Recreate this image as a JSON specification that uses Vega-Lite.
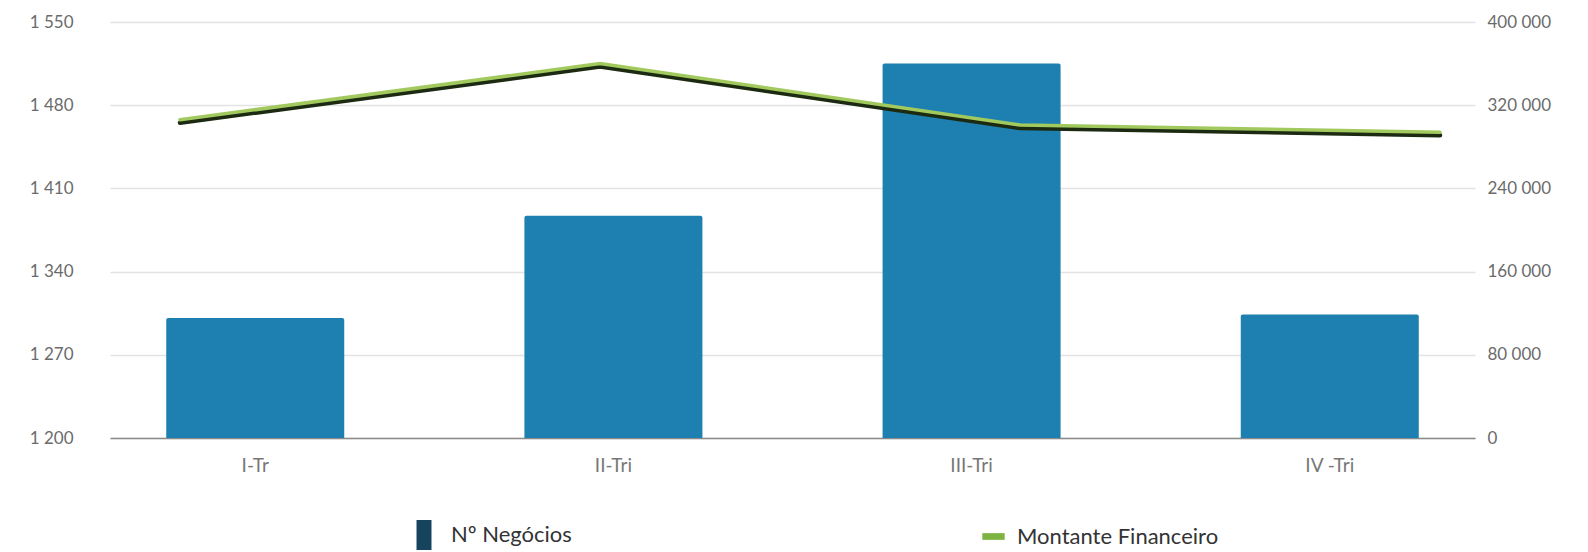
{
  "$schema": "https://vega.github.io/schema/vega-lite/v6.json",
  "width": 1365,
  "height": 416,
  "autosize": {"type": "none"},
  "padding": {"left": 110, "top": 22, "right": 113, "bottom": 114},
  "background": "white",
  "config": {
    "view": {"stroke": null},
    "font": "Lato",
    "axis": {"labelFont": "Lato", "labelColor": "#6b6b6b", "labelFontSize": 17, "ticks": false, "domain": false}
  },
  "data": {
    "values": [
      {"trimestre": "I-Tr", "negocios": 1301, "montante": 306000},
      {"trimestre": "II-Tri", "negocios": 1387, "montante": 360000},
      {"trimestre": "III-Tri", "negocios": 1515, "montante": 301000},
      {"trimestre": "IV -Tri", "negocios": 1304, "montante": 294000}
    ]
  },
  "layer": [
    {
      "mark": {"type": "bar", "cornerRadiusTopLeft": 2, "cornerRadiusTopRight": 2},
      "encoding": {
        "x": {
          "field": "trimestre", "type": "nominal", "sort": null,
          "scale": {"paddingInner": 0.503, "paddingOuter": 0.157},
          "axis": {"title": null, "labelAngle": 0, "labelFontSize": 19, "labelColor": "#777777", "labelPadding": 18, "domain": true, "domainColor": "#8a8a8a", "domainWidth": 1.5, "grid": false}
        },
        "y": {
          "field": "negocios", "type": "quantitative",
          "scale": {"domain": [1200, 1550], "zero": false, "nice": false},
          "axis": {"title": null, "values": [1200, 1270, 1340, 1410, 1480, 1550], "labelExpr": "replace(format(datum.value, ','), ',', ' ')", "labelPadding": 37, "grid": true, "gridColor": "#e3e3e3", "gridWidth": 1.5}
        },
        "y2": {"datum": 1200},
        "fill": {
          "datum": "Nº Negócios", "type": "nominal",
          "scale": {"range": ["#1e80b0"]},
          "legend": {
            "title": null, "orient": "none", "legendX": 295, "legendY": 494,
            "symbolType": "M-0.25,-0.75H0.25V0.75H-0.25Z", "symbolSize": 900,
            "labelFont": "Lato", "labelFontSize": 22, "labelColor": "#333333", "labelOffset": 8, "labelLimit": 0,
            "encode": {"symbols": {
              "update": {"stroke": {"value": "#16445e"}, "strokeWidth": {"value": 7.5}, "strokeJoin": {"value": "miter"}}
            }}
          }
        }
      }
    },
    {
      "encoding": {
        "x": {
          "field": "trimestre", "type": "nominal", "sort": null,
          "scale": {"type": "point", "range": [70, 1330], "padding": 0},
          "axis": null
        },
        "y": {
          "field": "montante", "type": "quantitative",
          "scale": {"domain": [0, 400000], "nice": false},
          "axis": {"title": null, "orient": "right", "values": [0, 80000, 160000, 240000, 320000, 400000], "labelExpr": "replace(format(datum.value, ','), ',', ' ')", "labelPadding": 12, "grid": false}
        }
      },
      "layer": [
        {
          "mark": {"type": "line", "color": "#1c2a12", "strokeWidth": 4.5, "yOffset": 3, "strokeCap": "round"}
        },
        {
          "mark": {"type": "line", "strokeWidth": 3.5, "strokeCap": "round"},
          "encoding": {
            "stroke": {
              "datum": "Montante Financeiro", "type": "nominal",
              "scale": {"range": ["#a2c95e"]},
              "legend": {
                "title": null, "orient": "none", "legendX": 872, "legendY": 503,
                "symbolType": "M-1,-0.3H1V0.3H-1Z", "symbolSize": 500,
                "labelFont": "Lato", "labelFontSize": 22, "labelColor": "#333333", "labelOffset": 12, "labelLimit": 0,
                "encode": {"symbols": {"update": {"fill": {"value": "#7cb342"}, "stroke": {"value": "#7cb342"}, "strokeWidth": {"value": 0}}}}
              }
            }
          }
        }
      ]
    }
  ],
  "resolve": {"scale": {"x": "independent", "y": "independent", "fill": "independent", "stroke": "independent"}}
}
